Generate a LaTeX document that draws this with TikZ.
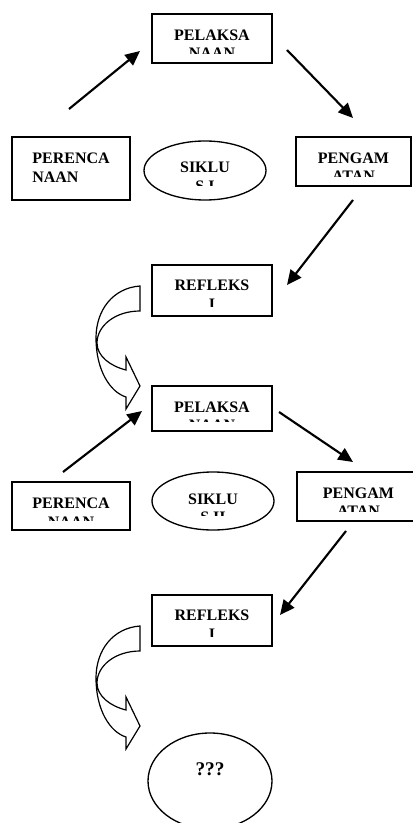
\documentclass[tikz,border=0pt]{standalone}
\usepackage{fontspec}
\setmainfont{Liberation Serif}
\usetikzlibrary{arrows.meta,shapes.geometric}
\tikzset{%
    kotak/.style={draw, line width=1.2pt, rectangle, inner sep=0pt},
    bulat/.style={draw, line width=1pt, ellipse, inner sep=0pt},
    tulisan/.style={font=\fontsize{12}{14}\selectfont\bfseries, align=center, inner sep=0pt, anchor=north},
    panah/.style={line width=1.6pt, -{Triangle[length=11pt,width=10pt]}},
    lengkung/.style={draw, line width=0.9pt, line join=miter}
}
% text of a shape, cut off above its lower edge
\newcommand{\isi}[5][center]{%
    \begin{scope}
    \clip (#2.west |- #2.north) rectangle ([yshift=#4]#2.east |- #2.south);
    \node[tulisan, align=#1] at ([yshift=-#3]#2.north) {#5};
    \end{scope}}

\begin{document}
\begin{tikzpicture}[x=0.75pt,y=-0.75pt]
    \useasboundingbox (0,0) rectangle (412,823);
    % siklus I
    \node[kotak, minimum width=90pt, minimum height=36.75pt] (pel1) at (212,38.5) {};
    \node[kotak, minimum width=88.5pt, minimum height=47.25pt] (per1) at (71,168.5) {};
    \node[bulat, minimum width=91.5pt, minimum height=44.25pt] (sik1) at (205,170.5) {};
    \node[kotak, minimum width=86.25pt, minimum height=36.75pt] (peng1) at (353.5,161.5) {};
    \node[kotak, minimum width=90pt, minimum height=38.25pt] (ref1) at (212,290.5) {};
    \isi{pel1}{12pt}{7.5pt}{PELAKSA\\NAAN}
    \isi[left]{per1}{12.5pt}{7.5pt}{PERENCA\\NAAN}
    \isi{sik1}{16pt}{11.25pt}{SIKLU\\S I}
    \isi{peng1}{12pt}{7.5pt}{PENGAM\\ATAN}
    \isi{ref1}{11.5pt}{7.5pt}{REFLEKS\\I}
    % siklus II
    \node[kotak, minimum width=90pt, minimum height=33.75pt] (pel2) at (212,408.5) {};
    \node[kotak, minimum width=88.5pt, minimum height=36pt] (per2) at (71,506) {};
    \node[bulat, minimum width=91.5pt, minimum height=43.5pt] (sik2) at (213,501) {};
    \node[kotak, minimum width=92.25pt, minimum height=36.75pt] (peng2) at (358.5,496.5) {};
    \node[kotak, minimum width=90pt, minimum height=38.25pt] (ref2) at (212,620.5) {};
    \node[bulat, minimum width=93pt, minimum height=72pt] (hasil) at (210,781) {};
    \isi{pel2}{12pt}{7.5pt}{PELAKSA\\NAAN}
    \isi{per2}{12.5pt}{7.5pt}{PERENCA\\NAAN}
    \isi{sik2}{16.5pt}{11.25pt}{SIKLU\\S II}
    \isi{peng2}{12pt}{7.5pt}{PENGAM\\ATAN}
    \isi{ref2}{11.5pt}{7.5pt}{REFLEKS\\I}
    \isi{hasil}{22.5pt}{5pt}{\fontsize{14.5}{16}\selectfont ???}
    % ujung panah
    \coordinate (a1) at (69,109);  \coordinate (b1) at (140,51);
    \coordinate (a2) at (287,50);  \coordinate (b2) at (353,118);
    \coordinate (a3) at (353,200); \coordinate (b3) at (287,285);
    \coordinate (a4) at (63,472);  \coordinate (b4) at (142,411);
    \coordinate (a5) at (279,412); \coordinate (b5) at (353,462);
    \coordinate (a6) at (346,531); \coordinate (b6) at (280,615);
    \foreach \i in {1,...,6}
    {
    \draw[panah] (a\i) -- (b\i);
    }
    % panah lengkung
    \foreach \dy in {0,340}
    {
    \begin{scope}[shift={(0,\dy)}]
    \draw[lengkung] (140,286) .. controls (113,288) and (96,310) .. (96,338)
        .. controls (96,370) and (110,392) .. (126,397) -- (126,409) -- (140,386)
        -- (126,357) -- (126,370) .. controls (110,366) and (97,356) .. (97,343)
        .. controls (97,326) and (115,311) .. (140,311) -- cycle;
    \end{scope}
    }
\end{tikzpicture}
\end{document}
